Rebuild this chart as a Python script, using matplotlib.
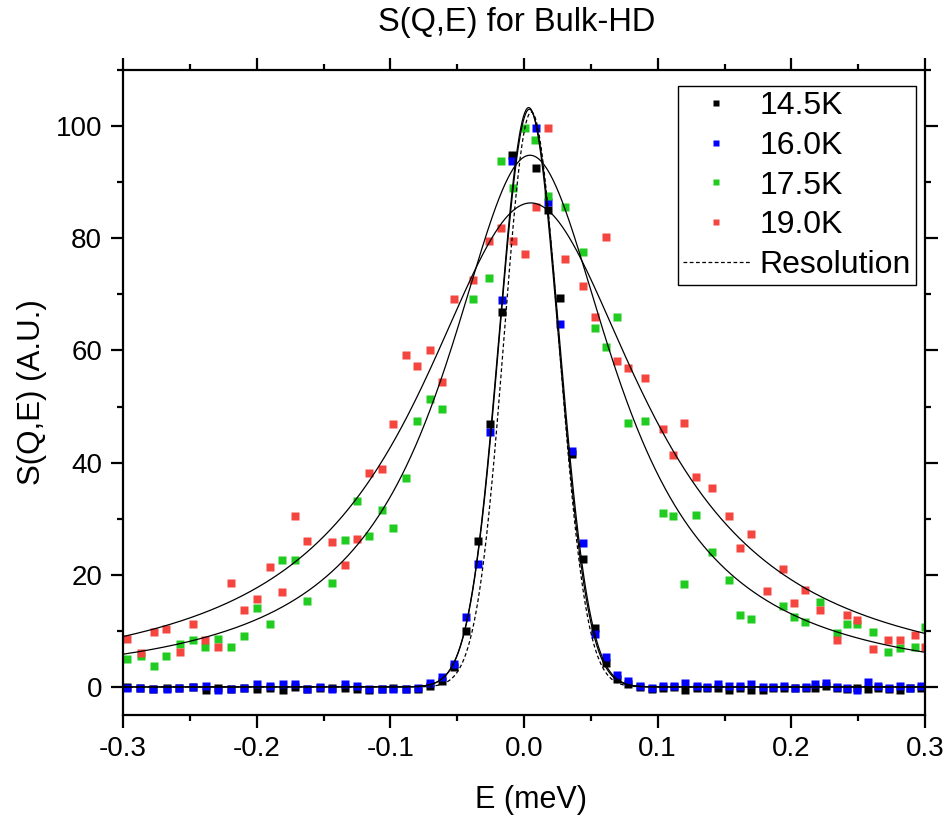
import numpy as np
import matplotlib
matplotlib.use("Agg")
import matplotlib.pyplot as plt
from matplotlib.ticker import MultipleLocator, FixedLocator

plt.rcParams['font.family'] = ['Liberation Sans', 'DejaVu Sans']
plt.rcParams['axes.unicode_minus'] = False

# ---------------- data ----------------
e_low = [-0.2973, -0.2873, -0.2773, -0.2673, -0.2578, -0.2478, -0.2379, -0.2286,
         -0.2192, -0.2094, -0.2000, -0.1900, -0.1806, -0.1714, -0.1621, -0.1526,
         -0.1434, -0.1339, -0.1252, -0.1157, -0.1065, -0.0978, -0.0883, -0.0791,
         -0.0704, -0.0617, -0.0524, -0.0434, -0.0347, -0.0256, -0.0167, -0.0092,
         0.0092, 0.0182, 0.0270, 0.0357, 0.0444, 0.0530, 0.0614, 0.0693,
         0.0780, 0.0868, 0.0955, 0.1037, 0.1122, 0.1204, 0.1292, 0.1371,
         0.1454, 0.1536, 0.1616, 0.1696, 0.1786, 0.1865, 0.1945, 0.2028,
         0.2110, 0.2177, 0.2260, 0.2345, 0.2420, 0.2494, 0.2576, 0.2651,
         0.2734, 0.2814, 0.2888, 0.2968]

s_145 = [0.0, -0.2, -0.3, -0.2, -0.2, 0.0, -0.5, -0.2,
         -0.4, -0.2, -0.3, -0.1, -0.6, 0.0, -0.3, -0.1,
         -0.2, -0.1, -0.4, -0.6, -0.3, -0.2, -0.3, -0.4,
         0.2, 1.0, 3.6, 10.0, 26.0, 46.8, 66.8, 94.9,
         92.5, 85.1, 69.4, 41.5, 22.8, 10.5, 4.2, 1.4,
         0.6, 0.0, -0.3, -0.2, 0.0, -0.5, -0.1, -0.2,
         -0.1, -0.6, -0.1, -0.5, -0.5, -0.2, -0.1, -0.2,
         -0.1, -0.2, 0.2, -0.1, -0.3, -0.2, -0.3, -0.1,
         -0.3, -0.5, -0.2, -0.1]

s_160 = [-0.1, -0.1, -0.3, -0.3, -0.1, 0.0, 0.1, -0.6,
         -0.3, -0.1, 0.5, 0.1, 0.5, 0.5, -0.3, 0.0,
         -0.3, 0.5, 0.1, -0.3, -0.3, -0.3, -0.3, -0.1,
         0.7, 1.8, 4.1, 12.5, 22.0, 45.4, 69.0, 93.7,
         99.6, 86.4, 64.8, 42.0, 25.6, 9.5, 5.4, 2.1,
         1.1, 0.1, -0.1, 0.1, 0.1, 0.7, 0.1, 0.0,
         0.5, 0.1, 0.1, 0.5, 0.0, 0.0, 0.1, -0.1,
         0.0, 0.5, 0.7, 0.0, -0.1, -0.6, 0.9, 0.1,
         -0.1, 0.1, -0.1, 0.1]

e_175 = [-0.2969, -0.2868, -0.2768, -0.2676, -0.2576, -0.2476, -0.2384, -0.2289,
         -0.2190, -0.2095, -0.2000, -0.1903, -0.1811, -0.1715, -0.1621, -0.1434,
         -0.1340, -0.1252, -0.1157, -0.1065, -0.0978, -0.0883, -0.0798, -0.0703,
         -0.0611, -0.0384, -0.0260, -0.0175, -0.0086, 0.0006, 0.0082, 0.0182,
         0.0307, 0.0444, 0.0530, 0.0614, 0.0694, 0.0780, 0.0905, 0.1038,
         0.1117, 0.1197, 0.1287, 0.1404, 0.1530, 0.1616, 0.1696, 0.1940,
         0.2020, 0.2102, 0.2214, 0.2339, 0.2414, 0.2489, 0.2613, 0.2725,
         0.2813, 0.2925, 0.3000]
s_175 = [4.9, 5.5, 3.7, 5.6, 7.7, 8.3, 7.2, 8.6,
         7.2, 9.0, 14.1, 11.3, 22.7, 22.7, 15.4, 18.5,
         26.2, 33.1, 27.0, 31.5, 28.3, 37.2, 47.4, 51.4,
         49.6, 69.1, 73.0, 93.7, 88.9, 99.7, 97.6, 87.6,
         85.6, 77.6, 64.0, 60.7, 66.0, 47.1, 47.5, 31.0,
         30.4, 18.3, 30.6, 24.1, 19.0, 12.9, 12.2, 14.5,
         12.4, 11.6, 15.1, 9.6, 11.2, 11.2, 9.8, 6.2,
         7.0, 7.2, 10.7]

e_190 = [-0.2969, -0.2868, -0.2768, -0.2676, -0.2576, -0.2476, -0.2384, -0.2289,
         -0.2190, -0.2095, -0.2000, -0.1903, -0.1811, -0.1715, -0.1621, -0.1434,
         -0.1340, -0.1252, -0.1157, -0.1065, -0.0978, -0.0883, -0.0798, -0.0703,
         -0.0611, -0.0524, -0.0384, -0.0260, -0.0175, -0.0086, 0.0006, 0.0090,
         0.0182, 0.0307, 0.0444, 0.0530, 0.0614, 0.0694, 0.0780, 0.0905,
         0.1038, 0.1117, 0.1197, 0.1287, 0.1404, 0.1530, 0.1616, 0.1696,
         0.1820, 0.1940, 0.2020, 0.2102, 0.2214, 0.2339, 0.2414, 0.2489,
         0.2613, 0.2725, 0.2813, 0.2925, 0.3000]
s_190 = [8.6, 6.1, 9.8, 10.4, 6.2, 11.2, 8.3, 7.2,
         18.6, 13.7, 15.7, 21.4, 16.9, 30.4, 26.0, 25.8,
         21.8, 26.3, 38.1, 38.8, 46.9, 59.2, 57.3, 60.0,
         54.3, 69.2, 72.5, 79.5, 81.8, 79.5, 77.2, 85.5,
         99.7, 76.3, 71.4, 65.9, 80.2, 58.2, 56.8, 55.1,
         46.0, 41.3, 47.0, 37.5, 35.5, 30.5, 24.7, 27.3,
         17.1, 21.0, 15.0, 17.2, 13.8, 8.4, 12.9, 11.9,
         6.8, 8.4, 8.4, 9.2, 7.1]

# fit parameters: (amplitude, centre, width)
fit_145 = (103.3, 0.0035, 0.0222)   # gaussian
fit_160 = (103.0, 0.0040, 0.0224)   # gaussian
fit_175 = (94.8, 0.0045, 0.078)     # lorentzian
fit_190 = (86.3, 0.0050, 0.104)     # lorentzian
res_fn = (102.5, 0.0055, 0.0205)    # gaussian resolution

labels = ['14.5K', '16.0K', '17.5K', '19.0K', 'Resolution']
colors = ['#000000', '#0000FF', '#1FCC1F', '#F5453F']

x_ticks = [-0.3, -0.2, -0.1, 0.0, 0.1, 0.2, 0.3]
x_ticklabels = ['-0.3', '-0.2', '-0.1', '0.0', '0.1', '0.2', '0.3']
y_ticks = [0, 20, 40, 60, 80, 100]


def gauss(x, p):
    a, c, s = p
    return a * np.exp(-(x - c) ** 2 / (2 * s ** 2))


def lorentz(x, p):
    a, c, g = p
    return a / (1 + ((x - c) / g) ** 2)


# ---------------- figure ----------------
W, H = 947, 817
fig = plt.figure(figsize=(W / 100, H / 100), dpi=100)
ax = fig.add_axes([123 / W, 1 - 715 / H, (925 - 123) / W, (715 - 70) / H])

ms = 5.2
series = [(e_low, s_145), (e_low, s_160), (e_175, s_175), (e_190, s_190)]
handles = []
for (ex, sy), col, lab in zip(series, colors, labels[:4]):
    h, = ax.plot(ex, sy, linestyle='none', marker='s', ms=ms, mec='none',
                 mfc=col, label=lab, zorder=2)
    handles.append(h)

xx = np.linspace(-0.3, 0.3, 1201)
lw = 0.9
ax.plot(xx, gauss(xx, fit_145), color='black', lw=lw, zorder=3)
ax.plot(xx, gauss(xx, fit_160), color='black', lw=lw, zorder=3)
ax.plot(xx, lorentz(xx, fit_175), color='black', lw=lw, zorder=3)
ax.plot(xx, lorentz(xx, fit_190), color='black', lw=lw, zorder=3)
hr, = ax.plot(xx, gauss(xx, res_fn), color='black', lw=lw, ls=(0, (3, 2)),
              zorder=3, label=labels[4])
handles.append(hr)

ax.set_xlim(-0.3, 0.3)
ax.set_ylim(-5, 110)
ax.xaxis.set_major_locator(FixedLocator(x_ticks))
ax.set_xticklabels(x_ticklabels)
ax.xaxis.set_minor_locator(MultipleLocator(0.05))
ax.yaxis.set_major_locator(FixedLocator(y_ticks))
ax.yaxis.set_minor_locator(MultipleLocator(10))

for sp in ax.spines.values():
    sp.set_linewidth(1.6)
ax.tick_params(which='both', direction='out', top=True, right=True,
               width=1.6, labelsize=20)
ax.tick_params(which='major', length=9, pad=6)
ax.tick_params(which='minor', length=4.5)

leg = ax.legend(handles=handles, loc='upper right',
                bbox_to_anchor=(0.9888, 0.9752), borderaxespad=0,
                fontsize=23, frameon=True, fancybox=False,
                edgecolor='black', framealpha=1, markerscale=0.8,
                handlelength=2.1, handletextpad=0.32, labelspacing=0.31,
                borderpad=0.15)
leg.get_frame().set_linewidth(1.0)

fig.text(517 / W, 1 - 23 / H, 'S(Q,E) for Bulk-HD', ha='center', va='center',
         fontsize=23.5)
fig.text(531 / W, 1 - 800 / H, 'E (meV)', ha='center', va='center',
         fontsize=22)
fig.text(32 / W, 1 - 392 / H, 'S(Q,E) (A.U.)', ha='center', va='center',
         rotation=90, fontsize=22.5)

fig.savefig('out.png', dpi=100)
